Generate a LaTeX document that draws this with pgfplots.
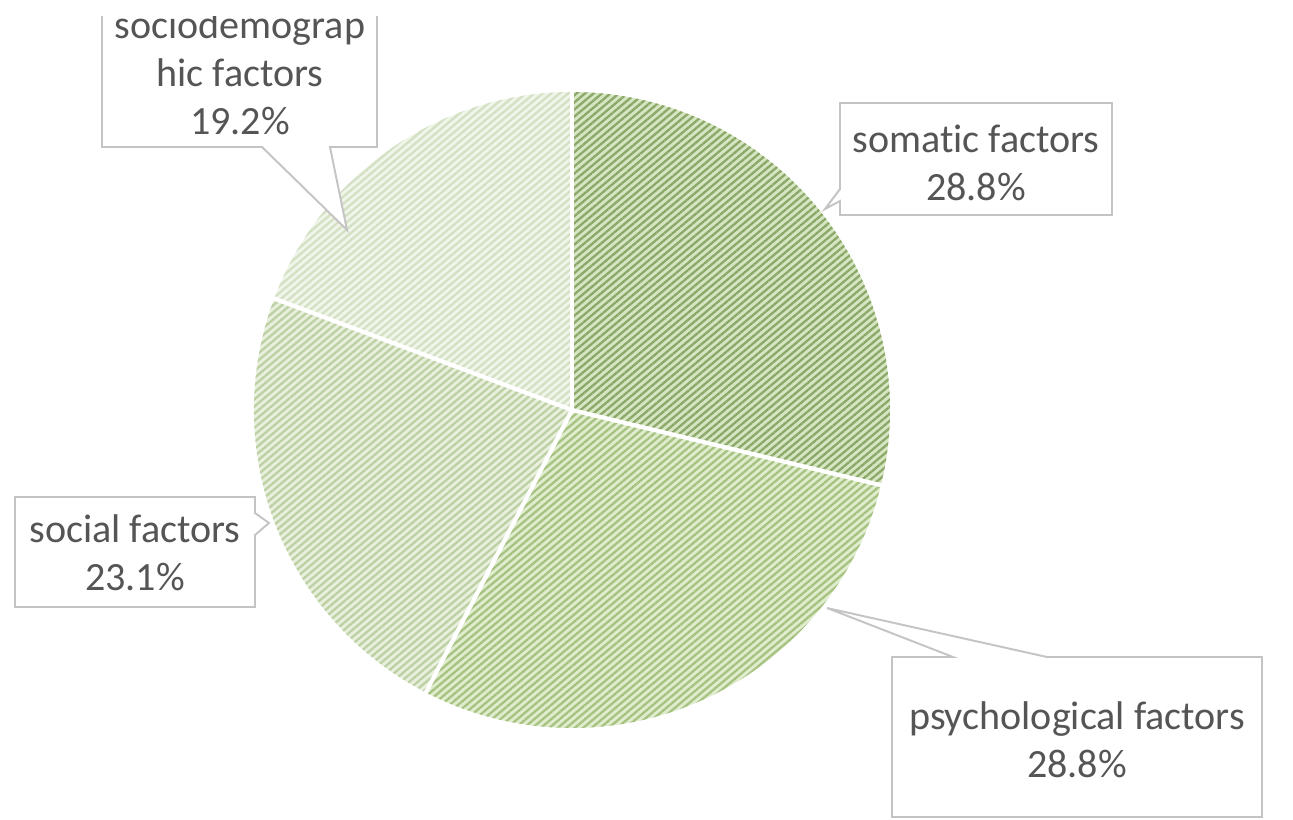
\documentclass[border=0pt]{standalone}
\usepackage{pgfplots}
\pgfplotsset{compat=1.18}
\usepackage{pgfplotstable}
\usetikzlibrary{patterns.meta}
\usepackage{fontspec}
\setmainfont{Carlito}[Ligatures=NoCommon]

\definecolor{fill0}{HTML}{D6E5C2}
\definecolor{line0}{HTML}{8BA868}
\definecolor{fill1}{HTML}{E0ECCE}
\definecolor{line1}{HTML}{A6C280}
\definecolor{fill2}{HTML}{E8F0DD}
\definecolor{line2}{HTML}{BCD0A3}
\definecolor{fill3}{HTML}{F0F5E9}
\definecolor{line3}{HTML}{D3E0C3}
\definecolor{boxgray}{HTML}{C4C4C4}
\definecolor{txtgray}{HTML}{555555}

% share of each factor group, in per cent, clockwise from twelve o'clock
\pgfplotstableread{
label            value
somatic          28.8
psychological    28.8
social           23.1
sociodemographic 19.2
}\piedata

% start and end angle of every slice
\newcommand\cumangle{90}
\foreach \i in {0,1,2,3}{%
  \pgfplotstablegetelem{\i}{value}\of\piedata
  \pgfmathsetmacro\endang{\cumangle-3.6*\pgfplotsretval}%
  \expandafter\xdef\csname sliceStart\i\endcsname{\cumangle}%
  \expandafter\xdef\csname sliceEnd\i\endcsname{\endang}%
  \xdef\cumangle{\endang}%
}

\begin{document}
\begin{tikzpicture}
\clip (0,0) rectangle (12.93cm,8.19cm);
\begin{axis}[
  at={(0,0)}, anchor=south west,
  scale only axis, width=12.93cm, height=8.19cm,
  xmin=0, xmax=1293, ymin=0, ymax=819,
  hide axis, clip=false,
]
% slices
\pgfplotsinvokeforeach{0,...,3}{
  \path[fill=fill#1,
        postaction={pattern={Lines[angle=40,distance=1.55pt,line width=0.65pt]},
                    pattern color=line#1}]
    (axis cs:572,409) -- ++(\csname sliceStart#1\endcsname:3.18cm)
    arc[start angle=\csname sliceStart#1\endcsname,
        end angle=\csname sliceEnd#1\endcsname, radius=3.18cm] -- cycle;
}
% white gaps between slices
\pgfplotsinvokeforeach{0,...,3}{
  \draw[white, line width=1.2pt]
    (axis cs:572,409) -- ++(\csname sliceStart#1\endcsname:3.22cm);
}

% callouts
\tikzset{callout/.style={draw=boxgray, line width=0.55pt, fill=white, line join=miter},
         lab/.style={text=txtgray, align=center,
                     font=\fontsize{11.4}{13.7}\selectfont}}
% somatic factors
\draw[callout] (axis cs:840,716) -- (axis cs:1112,716) -- (axis cs:1112,604)
  -- (axis cs:840,604) -- (axis cs:840,618) -- (axis cs:825,610)
  -- (axis cs:840,630) -- cycle;
\node[lab] at (axis cs:976,656) {somatic factors\\28.8\%};
% psychological factors
\draw[callout] (axis cs:892,162) -- (axis cs:953,162) -- (axis cs:827,211)
  -- (axis cs:1047,162) -- (axis cs:1262,162) -- (axis cs:1262,2)
  -- (axis cs:892,2) -- cycle;
\node[lab] at (axis cs:1077,079) {psychological factors\\28.8\%};
% social factors
\draw[callout] (axis cs:15,322) -- (axis cs:255,322) -- (axis cs:255,306)
  -- (axis cs:269,296) -- (axis cs:255,284) -- (axis cs:255,212)
  -- (axis cs:15,212) -- cycle;
\node[lab] at (axis cs:135,266) {social factors\\23.1\%};
% sociodemographic factors
\draw[callout] (axis cs:102,840) -- (axis cs:377,840) -- (axis cs:377,672)
  -- (axis cs:330,672) -- (axis cs:347,589) -- (axis cs:262,672)
  -- (axis cs:102,672) -- cycle;
\node[lab] at (axis cs:240,746) {sociodemograp\\hic factors\\19.2\%};
% blank top margin of the figure
\fill[white] (axis cs:0,803) rectangle (axis cs:1293,830);
\end{axis}
\end{tikzpicture}
\end{document}
